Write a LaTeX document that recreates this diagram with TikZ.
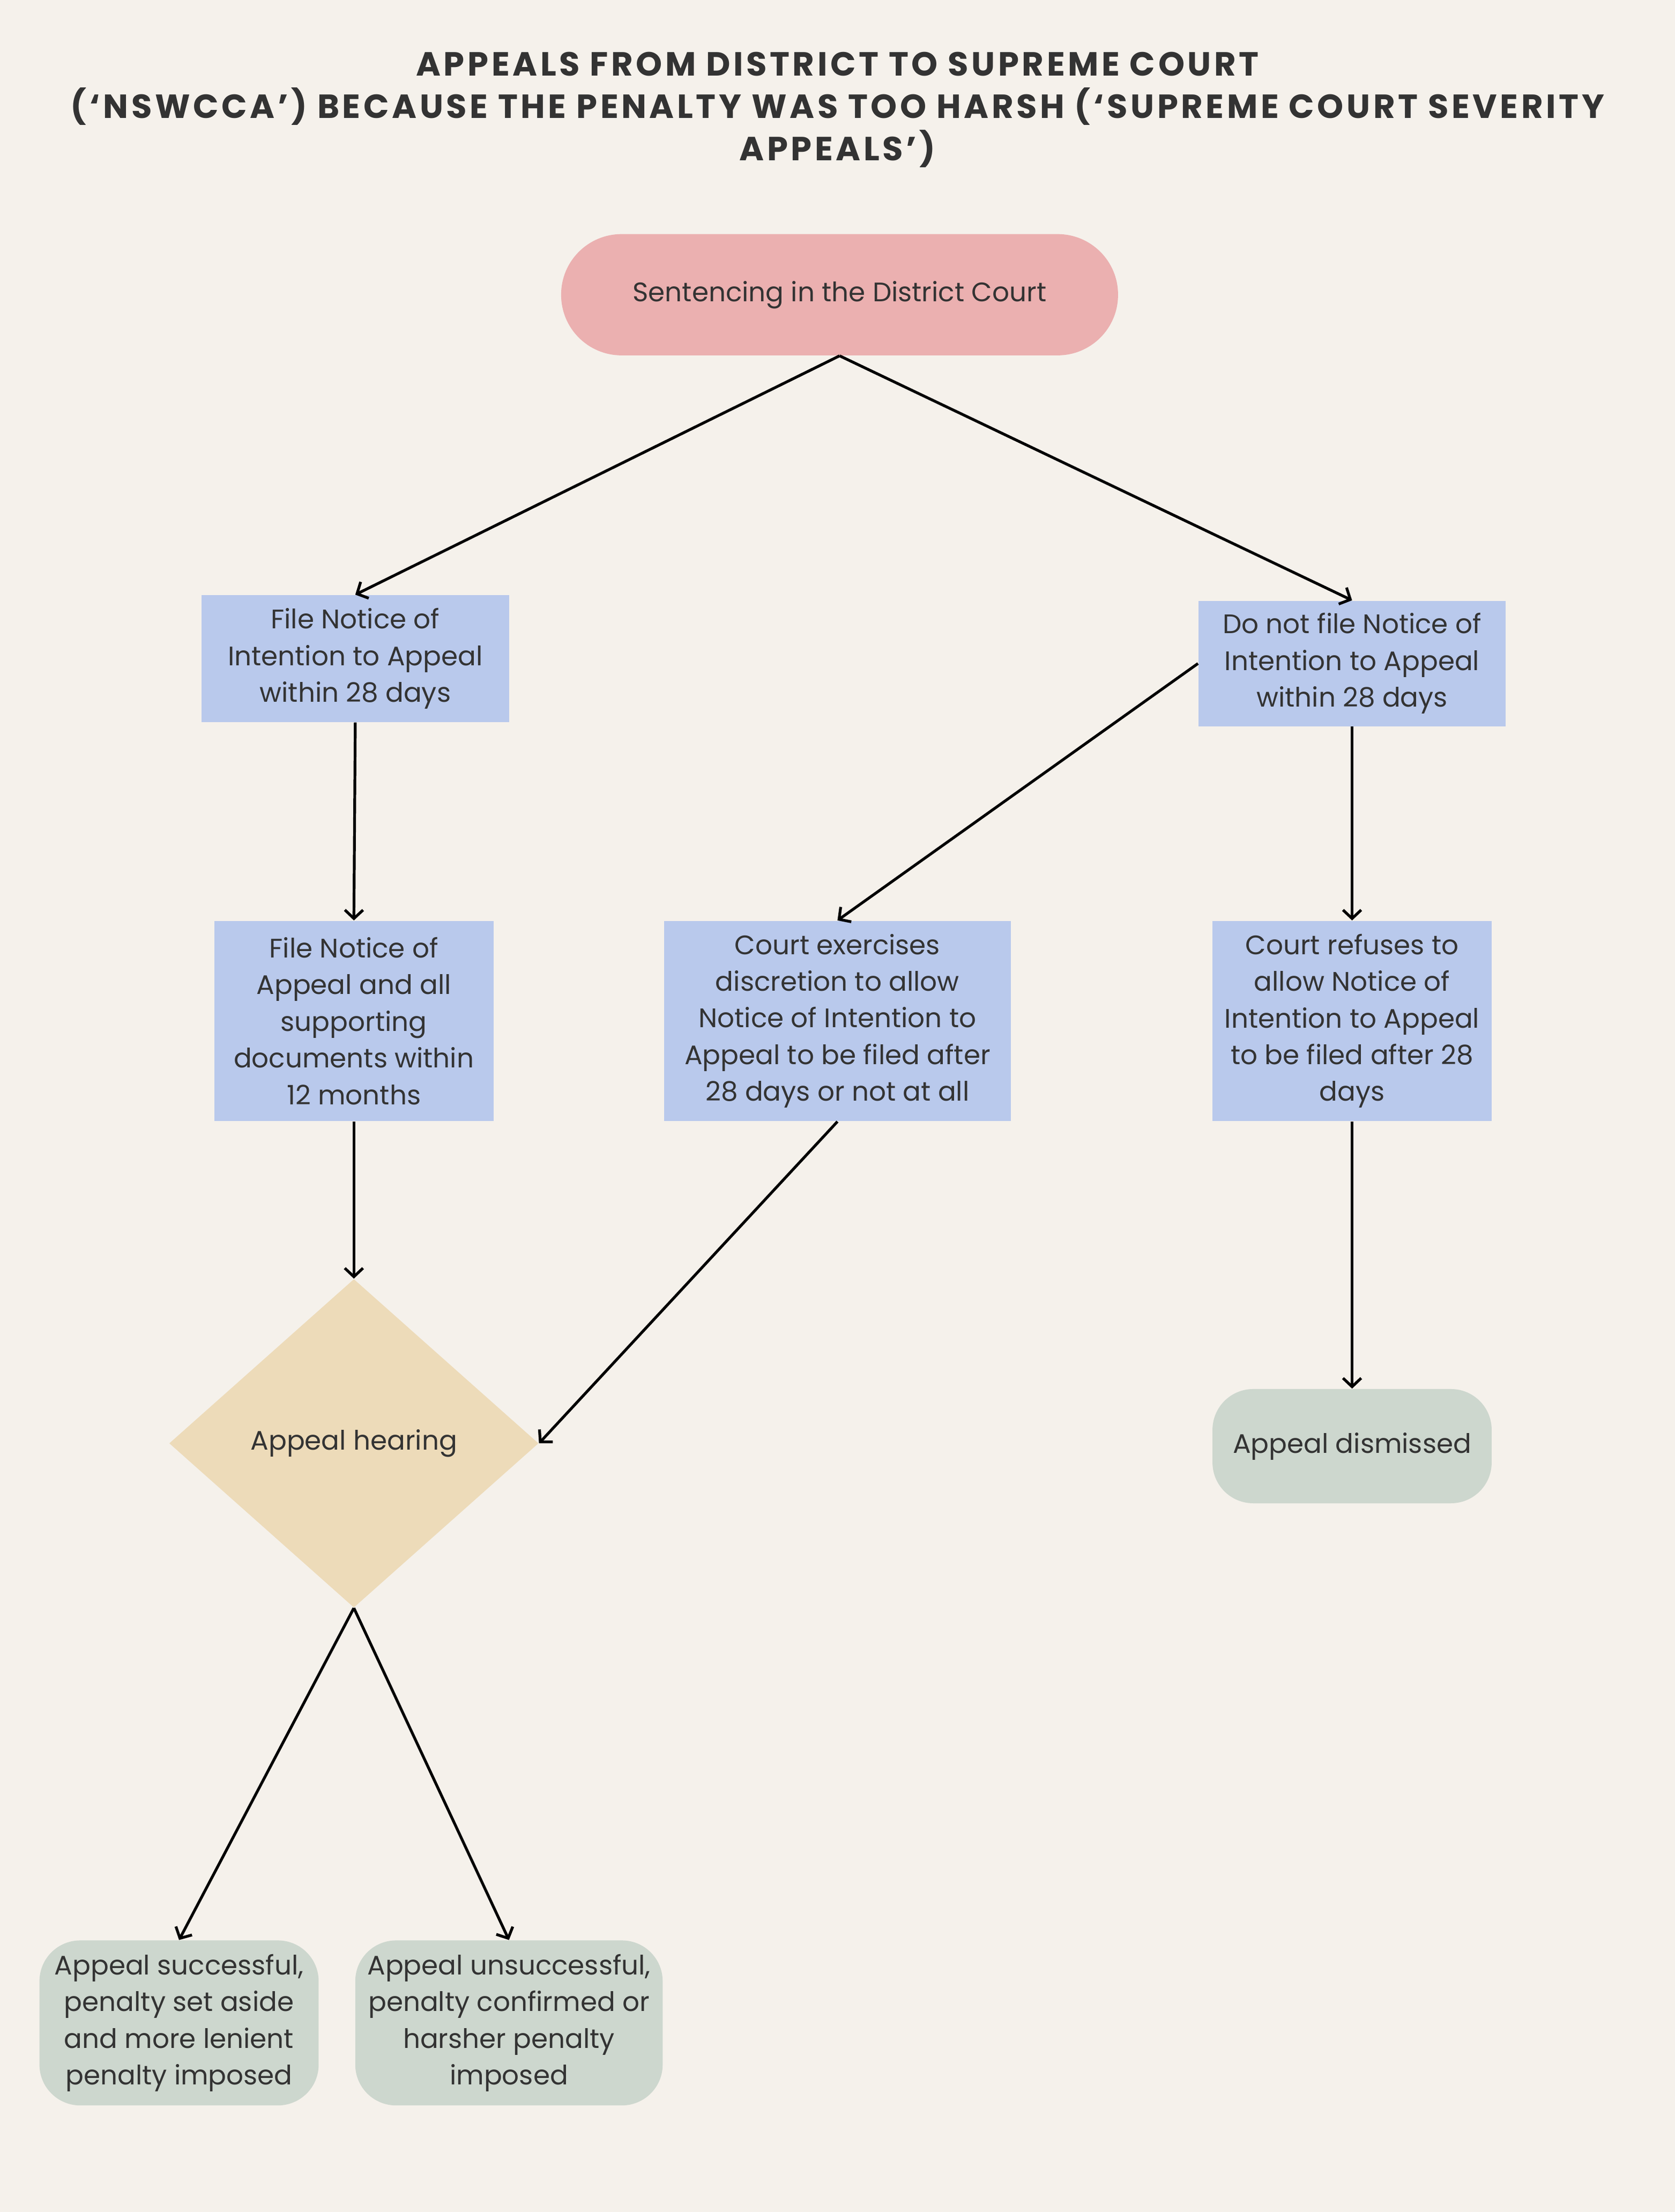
\documentclass[tikz,border=0pt]{standalone}
\usepackage{fontspec}
\setmainfont{Poppins}
\newfontfamily\titlefont{Poppins}[LetterSpace=9]
\usetikzlibrary{shapes.geometric,arrows.meta}
\definecolor{bgc}{HTML}{F5F1EB}
\definecolor{pinkc}{HTML}{EBB0B0}
\definecolor{bluec}{HTML}{B9C9EC}
\definecolor{tanc}{HTML}{EDDBB9}
\definecolor{sagec}{HTML}{CDD7CE}
\definecolor{txtc}{HTML}{333333}
\newdimen\pxu
\pxu=0.6576pt
\tikzset{
  boxtext/.style={text=txtc, font=\fontsize{12.5pt}{17.1pt}\selectfont, align=center, inner sep=0pt},
  pill/.style={boxtext, fill=pinkc, rounded corners=28.2pt},
  bluebox/.style={boxtext, fill=bluec},
  sagebox/.style={boxtext, fill=sagec, rounded corners=19pt},
  decision/.style={boxtext, diamond, fill=tanc, aspect=1.124},
  titleline/.style={text=txtc, font=\titlefont\bfseries\fontsize{15.6pt}{19pt}\selectfont, inner sep=0pt, anchor=base},
  conn/.style={draw=black, line width=1.3pt, -{Straight Barb[length=4pt,width=8.5pt,line width=1.3pt]}}
}
\begin{document}
\begin{tikzpicture}[x=0.6576pt, y=-0.6576pt]
\useasboundingbox (0,0) rectangle (1188,1568.6);
\fill[bgc] (0,0) rectangle (1188,1568.6);

\node[titleline] (t1) at (594,53.6) {APPEALS FROM DISTRICT TO SUPREME COURT};
\node[titleline] (t2) at (594,84) {(‘NSWCCA’) BECAUSE THE PENALTY WAS TOO HARSH (‘SUPREME COURT SEVERITY};
\node[titleline] (t3) at (594,114) {APPEALS’)};

\node[pill, minimum width={395*\pxu}, minimum height={86*\pxu}] (s) at (595.5,209) {Sentencing in the District Court};

\node[bluebox, minimum width={218*\pxu}, minimum height={90*\pxu}] (l1) at (252,467) {File Notice of\\Intention to Appeal\\within 28 days};
\node[bluebox, minimum width={218*\pxu}, minimum height={89*\pxu}] (r1) at (959,470.5) {Do not file Notice of\\Intention to Appeal\\within 28 days};

\node[bluebox, minimum width={198*\pxu}, minimum height={142*\pxu}] (l2) at (251,724) {File Notice of\\Appeal and all\\supporting\\documents within\\12 months};
\node[bluebox, minimum width={246*\pxu}, minimum height={142*\pxu}] (m2) at (594,724) {Court exercises\\discretion to allow\\Notice of Intention to\\Appeal to be filed after\\28 days or not at all};
\node[bluebox, minimum width={198*\pxu}, minimum height={142*\pxu}] (r2) at (959,724) {Court refuses to\\allow Notice of\\Intention to Appeal\\to be filed after 28\\days};

\node[decision, minimum width={262*\pxu}, minimum height={233*\pxu}] (d) at (251,1023.5) {Appeal hearing};

\node[sagebox, minimum width={198*\pxu}, minimum height={81*\pxu}] (dis) at (959,1025.5) {Appeal dismissed};

\node[sagebox, minimum width={198*\pxu}, minimum height={117*\pxu}] (b1) at (127,1434.5) {Appeal successful,\\penalty set aside\\and more lenient\\penalty imposed};
\node[sagebox, minimum width={218*\pxu}, minimum height={117*\pxu}] (b2) at (361,1434.5) {Appeal unsuccessful,\\penalty confirmed or\\harsher penalty\\imposed};

\draw[conn] (s.south) -- (l1.north);
\draw[conn] (s.south) -- (r1.north);
\draw[conn] (l1.south) -- (l2.north);
\draw[conn] (r1.west) -- (m2.north);
\draw[conn] (r1.south) -- (r2.north);
\draw[conn] (l2.south) -- (d.north);
\draw[conn] (m2.south) -- (d.east);
\draw[conn] (r2.south) -- (dis.north);
\draw[conn] (d.south) -- (b1.north);
\draw[conn] (d.south) -- (b2.north);
\end{tikzpicture}
\end{document}
